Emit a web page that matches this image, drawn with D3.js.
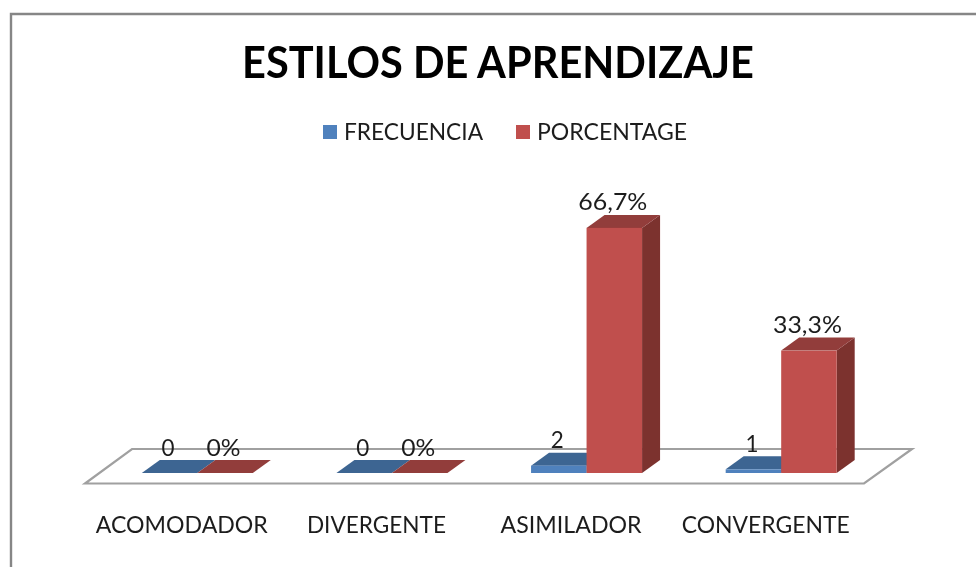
<!DOCTYPE html>
<html>
<head>
<meta charset="utf-8">
<script src="https://cdn.jsdelivr.net/npm/d3@7/dist/d3.min.js"></script>
<style>
html,body{margin:0;padding:0;background:#fff;overflow:hidden}
svg{display:block}
text{font-family:Lato,"Open Sans",sans-serif;fill:#1c1c1c}
</style>
</head>
<body>
<svg id="c" width="976" height="567"></svg>
<script>
const titleText = "ESTILOS DE APRENDIZAJE";
const categories = ["ACOMODADOR", "DIVERGENTE", "ASIMILADOR", "CONVERGENTE"];
const seriesNames = ["FRECUENCIA", "PORCENTAGE"];
const frecuencia = [0, 0, 2, 1];
const porcentage = [0, 0, 66.7, 33.3];
const colors = [
  {front:"#4f81bd", top:"#3d6592", side:"#345a85"},
  {front:"#c0504d", top:"#923c3a", side:"#7c312f"}
];

const svg = d3.select("#c");
const defs = svg.append("defs");
defs.append("filter").attr("id","soft").attr("x","-5%").attr("y","-5%").attr("width","110%").attr("height","110%")
  .append("feGaussianBlur").attr("stdDeviation",0.45);
const root = svg.append("g").attr("filter","url(#soft)");

// frame
root.append("path").attr("d","M11 570V14H980").attr("fill","none").attr("stroke","#868686").attr("stroke-width",2.4);

// title
root.append("text").attr("x",498).attr("y",78).attr("text-anchor","middle")
  .attr("font-size",43).attr("font-weight",700).style("fill","#000")
  .attr("textLength",512).attr("lengthAdjust","spacingAndGlyphs").text(titleText);

// legend
const legendX = d3.scaleOrdinal().domain(seriesNames).range([323,516]);
const legendW = {FRECUENCIA:139, PORCENTAGE:150};
const lg = root.selectAll(".lg").data(seriesNames).join("g").attr("class","lg");
lg.append("rect").attr("x",d=>legendX(d)).attr("y",125).attr("width",14).attr("height",14)
  .attr("fill",(d,i)=>colors[i].front);
lg.append("text").attr("x",d=>legendX(d)+21).attr("y",140).attr("font-size",23)
  .attr("textLength",d=>legendW[d]).attr("lengthAdjust","spacingAndGlyphs").text(d=>d);

// scales
const floorFront = {x0:85, x1:864, y:483.5};
const floorBack = {x0:132, x1:912, y:449};
const x = d3.scaleBand().domain(categories).range([85, 863.5]);
const y = d3.scaleLinear().domain([0,80]).range([473,179]);
const inner = d3.scaleBand().domain(seriesNames).range([0,111]);
const depthX = 18, depthY = 13, floorShift = 15;

// floor
root.append("path")
  .attr("d",`M${floorFront.x0} ${floorFront.y}L${floorFront.x1} ${floorFront.y}L${floorBack.x1} ${floorBack.y}L${floorBack.x0} ${floorBack.y}Z`)
  .attr("fill","#fff").attr("stroke","#a0a0a0").attr("stroke-width",2.2);

// category labels
const catW = {ACOMODADOR:172, DIVERGENTE:139, ASIMILADOR:141, CONVERGENTE:168};
root.selectAll(".cat").data(categories).join("text").attr("class","cat")
  .attr("x",d=>x(d)+x.bandwidth()/2-0.5).attr("y",533).attr("text-anchor","middle").attr("font-size",23)
  .attr("textLength",d=>catW[d]).attr("lengthAdjust","spacingAndGlyphs").text(d=>d);

// bars
const rows = [];
categories.forEach((c,i)=>{
  rows.push({c, s:0, v:frecuencia[i], label:String(frecuencia[i])});
  rows.push({c, s:1, v:porcentage[i], label:String(porcentage[i]).replace(".",",")+"%"});
});
const bx = d => x(d.c)+x.bandwidth()/2+floorShift-55.5+inner(seriesNames[d.s]);
const w = inner.bandwidth();

const bars = root.selectAll(".bar").data(rows).join("g").attr("class","bar");
bars.append("path").attr("fill",d=>colors[d.s].side)
  .attr("d",d=>{const a=bx(d)+w,t=y(d.v),b=y(0);
    return `M${a} ${t}L${a+depthX} ${t-depthY}L${a+depthX} ${b-depthY}L${a} ${b}Z`;});
bars.append("path").attr("fill",d=>colors[d.s].top)
  .attr("d",d=>{const a=bx(d),t=y(d.v);
    return `M${a} ${t}L${a+depthX} ${t-depthY}L${a+w+depthX} ${t-depthY}L${a+w} ${t}Z`;});
bars.append("rect").attr("fill",d=>colors[d.s].front)
  .attr("x",d=>bx(d)).attr("y",d=>y(d.v)).attr("width",w).attr("height",d=>y(0)-y(d.v));

// value labels
root.selectAll(".val").data(rows).join("text").attr("class","val")
  .attr("x",d=>bx(d)+w/2-1.5).attr("y",d=>y(d.v)-17.5).attr("text-anchor","middle")
  .attr("font-size",24).attr("textLength",d=>d.label.length>2?69:(d.label.length===2?34:13))
  .attr("lengthAdjust","spacingAndGlyphs").text(d=>d.label);
</script>
</body>
</html>
